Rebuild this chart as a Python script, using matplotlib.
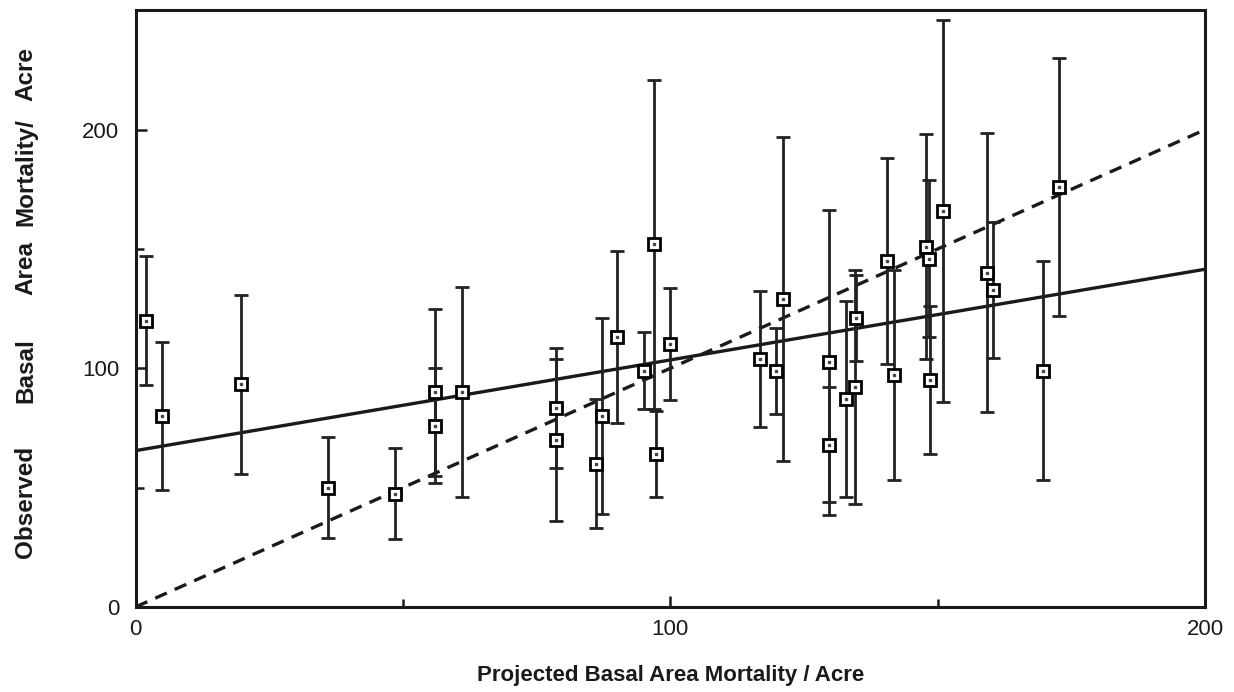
import matplotlib
matplotlib.use("Agg")
import matplotlib.pyplot as plt
from matplotlib.ticker import MultipleLocator

# data
projected = [2.0, 5.0, 19.6, 35.9, 48.4, 56.0, 56.0, 61.1, 78.6, 78.6,
             86.0, 87.2, 90.1, 95.1, 97.0, 97.3, 100.0, 116.7, 119.7, 121.1,
             129.6, 129.6, 132.8, 134.5, 134.8, 140.6, 141.8, 147.9, 148.4, 148.5,
             151.0, 159.2, 160.4, 169.7, 172.6]
observed = [120, 80, 93.4, 50, 47.5, 90, 76, 90, 83.4, 70,
            60, 80, 113, 99, 152, 64, 110, 104, 99, 129,
            102.5, 68, 87, 92, 121, 145, 97, 151, 146, 95,
            166, 140, 133, 99, 176]
err = [27, 31, 37.5, 21, 19, 35, 24, 44, 25, 34,
       27, 41, 36, 16, 69, 18, 23.5, 28.5, 18, 68,
       64, 24, 41, 49, 18, 43, 44, 47, 33, 31,
       80, 58.5, 28.5, 46, 54]

fit_x = [0, 200]
fit_y = [65.5, 141.5]
one_to_one = [0, 200]

ylabel_words = ["Acre", "Mortality/", "Area", "Basal", "Observed"]
ylabel_pos = [0.893, 0.752, 0.613, 0.464, 0.275]  # figure fraction, word centres

fig = plt.figure(figsize=(12.34, 6.92), dpi=100)
ax = fig.add_axes([0.110, 0.123, 0.8665, 0.862])

ax.errorbar(projected, observed, yerr=err, fmt="s", color="black",
            ecolor="#222222", elinewidth=2.0, capsize=5, capthick=2.4,
            markersize=8, markerfacecolor="white", markeredgecolor="black",
            markeredgewidth=2.0, zorder=3)
ax.plot(projected, observed, "s", markersize=2, color="#444444", zorder=4)

ax.plot(fit_x, fit_y, color="#1a1a1a", lw=2.4, zorder=2)
ax.plot(one_to_one, one_to_one, color="#1a1a1a", lw=2.4, dashes=(3.8, 2.6), zorder=2)

ax.set_xlim(0, 200)
ax.set_ylim(0, 250)
ax.xaxis.set_major_locator(MultipleLocator(100))
ax.xaxis.set_minor_locator(MultipleLocator(50))
ax.yaxis.set_major_locator(MultipleLocator(100))
ax.yaxis.set_minor_locator(MultipleLocator(50))
ax.tick_params(which="both", direction="in", width=1.8, color="#1a1a1a")
ax.tick_params(which="major", length=8, labelsize=16, labelcolor="#1a1a1a")
ax.tick_params(which="minor", length=6)
ax.tick_params(axis="x", which="major", pad=9)
ax.tick_params(axis="y", which="major", pad=12)
for t in ax.get_xticklabels() + ax.get_yticklabels():
    t.set_fontfamily("Liberation Sans")

for s in ax.spines.values():
    s.set_linewidth(2.2)
    s.set_color("#1a1a1a")

ax.set_xlabel("Projected Basal Area Mortality / Acre", fontsize=16,
              fontweight="bold", fontfamily="Liberation Sans", labelpad=18, color="#1a1a1a")

for word, yf in zip(ylabel_words, ylabel_pos):
    fig.text(0.021, yf, word, rotation=90, ha="center", va="center", fontsize=17.5,
             fontweight="bold", fontfamily="Liberation Sans", color="#1a1a1a")

plt.savefig("out.png", dpi=100)
